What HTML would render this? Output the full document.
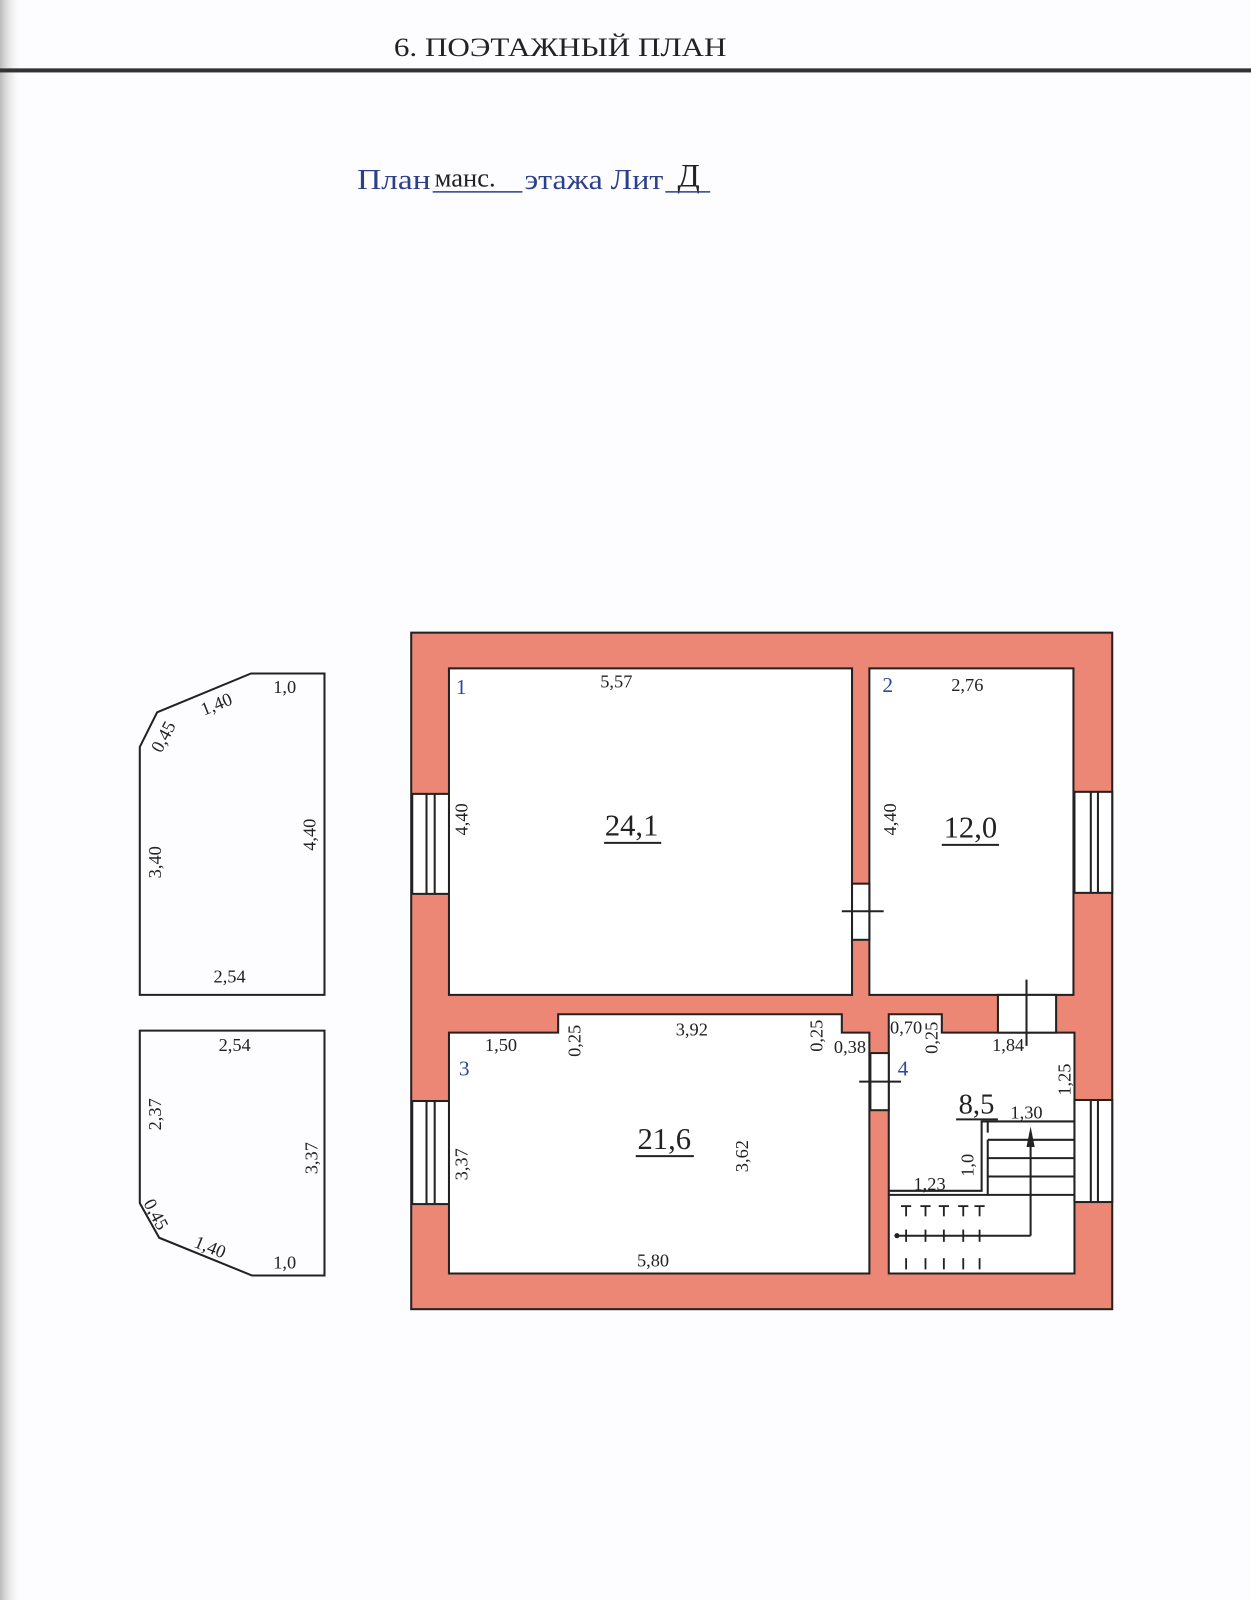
<!DOCTYPE html>
<html><head><meta charset="utf-8"><style>
html,body{margin:0;padding:0;background:#fdfdff;}
svg{display:block}
text{font-family:"Liberation Serif","DejaVu Serif",serif;fill:#222;}
</style></head><body>
<svg width="1251" height="1600" viewBox="0 0 1226 1568" preserveAspectRatio="none" xmlns="http://www.w3.org/2000/svg">
<defs><linearGradient id="lg" x1="0" x2="1"><stop offset="0" stop-color="#bbb"/><stop offset="1" stop-color="#fdfdff" stop-opacity="0"/></linearGradient></defs>
<rect width="1226" height="1568" fill="#fdfdff"/>
<rect x="0" y="0" width="22" height="1568" fill="url(#lg)"/>
<text x="549" y="55" font-size="26" text-anchor="middle" textLength="326" lengthAdjust="spacingAndGlyphs">6. ПОЭТАЖНЫЙ ПЛАН</text>
<rect x="0" y="67" width="1226" height="4" fill="#333"/>
<text x="350" y="185" font-size="28" style="fill:#2b3f8a" textLength="72" lengthAdjust="spacingAndGlyphs">План</text>
<text x="426" y="183" font-size="26">манс.</text>
<line x1="424" y1="188" x2="512" y2="188" stroke="#2b3f8a" stroke-width="1.5"/>
<text x="514" y="185" font-size="28" style="fill:#2b3f8a" textLength="136" lengthAdjust="spacingAndGlyphs">этажа Лит</text>
<text x="664" y="183" font-size="32">Д</text>
<line x1="652" y1="188" x2="696" y2="188" stroke="#2b3f8a" stroke-width="1.5"/>

<g fill="none" stroke="#222" stroke-width="2">
<polygon points="137,975 137,732 154,698 246,660 318,660 318,975"/>
<polygon points="137,1010 318,1010 318,1250 247,1250 156,1213 137,1179"/>
</g>
<g font-size="18">
<text x="279" y="679" text-anchor="middle">1,0</text>
<text x="212" y="696" text-anchor="middle" transform="rotate(-22 212 690)">1,40</text>
<text x="160" y="728" text-anchor="middle" transform="rotate(-62 160 722)">0,45</text>
<text x="152" y="851" text-anchor="middle" transform="rotate(-90 152 845)">3,40</text>
<text x="303" y="824" text-anchor="middle" transform="rotate(-90 303 818)">4,40</text>
<text x="225" y="963" text-anchor="middle">2,54</text>
<text x="230" y="1030" text-anchor="middle">2,54</text>
<text x="152" y="1098" text-anchor="middle" transform="rotate(-90 152 1092)">2,37</text>
<text x="305" y="1141" text-anchor="middle" transform="rotate(-90 305 1135)">3,37</text>
<text x="153" y="1196" text-anchor="middle" transform="rotate(62 153 1190)">0,45</text>
<text x="206" y="1228" text-anchor="middle" transform="rotate(22 206 1222)">1,40</text>
<text x="279" y="1243" text-anchor="middle">1,0</text>
</g>

<rect x="403" y="620" width="687" height="663" fill="#ec8675" stroke="#222" stroke-width="2"/>
<g fill="#fff" stroke="#222" stroke-width="2">
<rect x="440" y="655" width="395" height="320"/>
<rect x="852" y="655" width="200" height="320"/>
<polygon points="440,1012 547,1012 547,994 825,994 825,1012 852,1012 852,1248 440,1248"/>
<polygon points="871,994 923,994 923,1012 1053,1012 1053,1248 871,1248"/>
<rect x="835" y="866" width="17" height="55"/>
<rect x="853" y="1032" width="18" height="56"/>
<rect x="978" y="975" width="57" height="37"/>
<rect x="404" y="778" width="36" height="98"/>
<rect x="1053" y="776" width="37" height="99"/>
<rect x="404" y="1079" width="36" height="101"/>
<rect x="1053" y="1078" width="37" height="100"/>
</g>
<g stroke="#222" stroke-width="2" fill="none">
<line x1="418" y1="778" x2="418" y2="876"/><line x1="426" y1="778" x2="426" y2="876"/>
<line x1="1069" y1="776" x2="1069" y2="875"/><line x1="1076" y1="776" x2="1076" y2="875"/>
<line x1="418" y1="1079" x2="418" y2="1180"/><line x1="426" y1="1079" x2="426" y2="1180"/>
<line x1="1069" y1="1078" x2="1069" y2="1178"/><line x1="1076" y1="1078" x2="1076" y2="1178"/>
<line x1="825" y1="893" x2="866" y2="893"/>
<line x1="842" y1="1060" x2="883" y2="1060"/>
<line x1="1006" y1="960" x2="1006" y2="1025"/>
<polyline points="871,1167 962,1167 962,1099 1053,1099"/>
<polyline points="871,1171 968,1171 968,1117"/>
<line x1="968" y1="1117" x2="1053" y2="1117"/>
<line x1="968" y1="1135" x2="1053" y2="1135"/>
<line x1="968" y1="1153" x2="1053" y2="1153"/>
<line x1="968" y1="1171" x2="1053" y2="1171"/>
<line x1="968" y1="1099" x2="968" y2="1110"/>
<line x1="879" y1="1211" x2="1010" y2="1211"/>
<line x1="1010" y1="1211" x2="1010" y2="1118"/>
</g>
<g stroke="#222" stroke-width="1.8">
<line x1="888" y1="1182" x2="888" y2="1192"/><line x1="907" y1="1182" x2="907" y2="1192"/><line x1="925" y1="1182" x2="925" y2="1192"/><line x1="944" y1="1182" x2="944" y2="1192"/><line x1="960" y1="1182" x2="960" y2="1192"/>
<line x1="883" y1="1182" x2="893" y2="1182"/><line x1="902" y1="1182" x2="912" y2="1182"/><line x1="920" y1="1182" x2="930" y2="1182"/><line x1="939" y1="1182" x2="949" y2="1182"/><line x1="955" y1="1182" x2="965" y2="1182"/>
<line x1="888" y1="1205" x2="888" y2="1217"/><line x1="907" y1="1205" x2="907" y2="1217"/><line x1="925" y1="1205" x2="925" y2="1217"/><line x1="944" y1="1205" x2="944" y2="1217"/><line x1="960" y1="1205" x2="960" y2="1217"/>
<line x1="888" y1="1233" x2="888" y2="1244"/><line x1="907" y1="1233" x2="907" y2="1244"/><line x1="925" y1="1233" x2="925" y2="1244"/><line x1="944" y1="1233" x2="944" y2="1244"/><line x1="960" y1="1233" x2="960" y2="1244"/>
</g>
<circle cx="879" cy="1211" r="2.5" fill="#222"/>
<polygon points="1010,1104 1006,1124 1014,1124" fill="#222"/>

<g font-size="18">
<text x="452" y="680" text-anchor="middle" font-size="21" style="fill:#2b4a9a">1</text>
<text x="604" y="674" text-anchor="middle">5,57</text>
<text x="870" y="678" text-anchor="middle" font-size="21" style="fill:#2b4a9a">2</text>
<text x="948" y="677" text-anchor="middle">2,76</text>
<text x="452" y="809" text-anchor="middle" transform="rotate(-90 452 803)">4,40</text>
<text x="872" y="809" text-anchor="middle" transform="rotate(-90 872 803)">4,40</text>
<text x="491" y="1030" text-anchor="middle">1,50</text>
<text x="563" y="1026" text-anchor="middle" transform="rotate(-90 563 1020)">0,25</text>
<text x="678" y="1015" text-anchor="middle">3,92</text>
<text x="800" y="1021" text-anchor="middle" transform="rotate(-90 800 1015)">0,25</text>
<text x="833" y="1032" text-anchor="middle">0,38</text>
<text x="888" y="1013" text-anchor="middle">0,70</text>
<text x="913" y="1023" text-anchor="middle" transform="rotate(-90 913 1017)">0,25</text>
<text x="988" y="1030" text-anchor="middle">1,84</text>
<text x="455" y="1054" text-anchor="middle" font-size="21" style="fill:#2b4a9a">3</text>
<text x="885" y="1054" text-anchor="middle" font-size="21" style="fill:#2b4a9a">4</text>
<text x="1043" y="1064" text-anchor="middle" transform="rotate(-90 1043 1058)">1,25</text>
<text x="1006" y="1096" text-anchor="middle">1,30</text>
<text x="727" y="1139" text-anchor="middle" transform="rotate(-90 727 1133)">3,62</text>
<text x="452" y="1147" text-anchor="middle" transform="rotate(-90 452 1141)">3,37</text>
<text x="948" y="1148" text-anchor="middle" transform="rotate(-90 948 1142)">1,0</text>
<text x="911" y="1166" text-anchor="middle">1,23</text>
<text x="640" y="1241" text-anchor="middle">5,80</text>
</g>
<g font-size="30">
<text x="619" y="819" text-anchor="middle">24,1</text>
<text x="951" y="821" text-anchor="middle">12,0</text>
<text x="651" y="1126" text-anchor="middle">21,6</text>
<text x="957" y="1091" text-anchor="middle" font-size="28">8,5</text>
</g>
<g stroke="#222" stroke-width="2">
<line x1="592" y1="826" x2="648" y2="826"/>
<line x1="923" y1="828" x2="979" y2="828"/>
<line x1="623" y1="1133" x2="680" y2="1133"/>
<line x1="937" y1="1097" x2="978" y2="1097"/>
</g>
</svg>
</body></html>
